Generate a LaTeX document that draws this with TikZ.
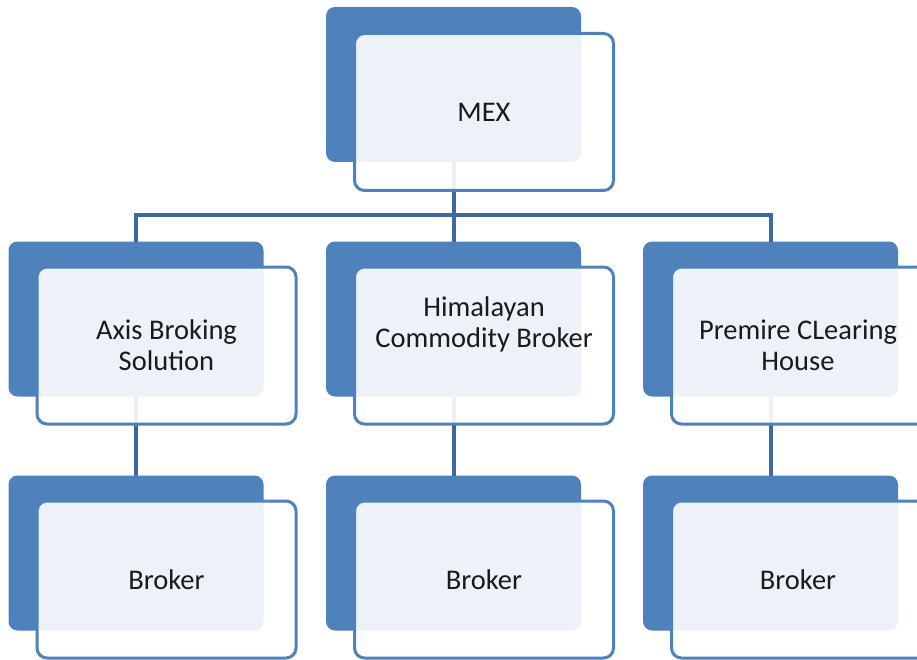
\documentclass[tikz,border=0pt]{standalone}
\usepackage{fontspec}
\setmainfont{Carlito}
\usetikzlibrary{backgrounds}
\definecolor{boxblue}{HTML}{4F81BD}
\definecolor{linkblue}{HTML}{3D69A2}
\definecolor{txt}{HTML}{1A1A1A}
\begin{document}
\begin{tikzpicture}[x=1pt,y=-1pt,
  back/.style={rectangle, rounded corners=9pt, fill=boxblue, draw=none,
    minimum width=255pt, minimum height=155pt, inner sep=0pt, outer sep=0pt},
  front/.style={rectangle, rounded corners=10pt, fill=white, fill opacity=0.9,
    draw=boxblue, line width=3pt, minimum width=259pt, minimum height=157pt,
    inner sep=0pt, outer sep=0pt},
  lbl/.style={text=txt, align=center, font=\fontsize{28.5}{31}\selectfont, inner sep=0pt},
  link/.style={draw=linkblue, line width=4pt}]
\useasboundingbox (0,0) rectangle (917,660);
\coordinate (bus) at (453.5,215);
% back boxes
\node[back] (mexb) at (453.5,84.5) {};
\node[back] (axb)  at (136,319) {};
\node[back] (himb) at (453.5,319) {};
\node[back] (preb) at (770.5,319) {};
\node[back] (br1b) at (136,553) {};
\node[back] (br2b) at (453.5,553) {};
\node[back] (br3b) at (770.5,553) {};
% connectors behind the boxes
\begin{scope}[on background layer]
\draw[link] (mexb.south) |- (bus) -| ([yshift=-4pt]axb.north);
\draw[link] (bus) -- ([yshift=-4pt]himb.north);
\draw[link] (bus) -| ([yshift=-4pt]preb.north);
\draw[link] (axb.south) -- ([yshift=-4pt]br1b.north);
\draw[link] (himb.south) -- ([yshift=-4pt]br2b.north);
\draw[link] (preb.south) -- ([yshift=-4pt]br3b.north);
\end{scope}
% front boxes
\node[front] (mexf) at (484,112) {};
\node[front] (axf)  at (166.5,345.5) {};
\node[front] (himf) at (484,345.5) {};
\node[front] (pref) at (801,345.5) {};
\node[front] (br1f) at (166.5,579.5) {};
\node[front] (br2f) at (484,579.5) {};
\node[front] (br3f) at (801,579.5) {};
% texts
\node[lbl] (mext) at (mexf.center) {MEX};
\node[lbl] (axt)  at (axf.center) {Axis Broking\\Solution};
\node[lbl] (himt) at ([yshift=21pt]himf.center) {Himalayan\\Commodity Broker};
\node[lbl] (pret) at ([xshift=-3pt]pref.center) {Premire CLearing\\House};
\node[lbl] (br1t) at (br1f.center) {Broker};
\node[lbl] (br2t) at (br2f.center) {Broker};
\node[lbl] (br3t) at ([xshift=-3pt]br3f.center) {Broker};
\end{tikzpicture}
\end{document}
